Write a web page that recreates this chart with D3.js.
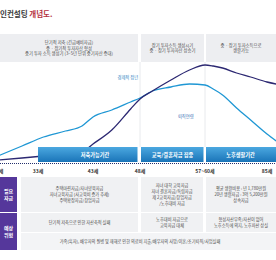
<!DOCTYPE html>
<html>
<head>
<meta charset="utf-8">
<script src="https://cdn.jsdelivr.net/npm/d3@7"></script>
<style>
  body { margin: 0; background: #fff; }
  svg { display: block; font-family: "Noto Sans CJK KR", "Noto Sans", sans-serif; }
</style>
</head>
<body>
<div id="chart"></div>
<script>
// ages on the axis (57~60 is drawn as one tick)
var ageTicks = [28, 33, 43, 48, 58.5, 85];
var ageLabels = ["28세", "33세", "43세", "48세", "57~60세", "85세"];

// stage boxes on top
var stageFrom = [28, 48, 58.5];
var stageTo = [48, 58.5, 92];
var stageLines = [
  ["단기적 저축 (긴급예비자금)", "중 · 장기적 투자자산 형성", "중기 투자 소득 생성기 (3~5년 단위 중기자산 증대)"],
  ["장기 투자소득 생성시기", "중 · 장기 투자자산 상승기"],
  ["중 · 장기 투자소득으로", "생활가능"]
];

// period bars
var periodFrom = [33, 48, 58.5];
var periodTo = [48, 58.5, 92];
var periodNames = ["저축가능기간", "교육/결혼자금 집중", "노후생활기간"];

// curves
var curveAges = [28, 31, 34, 38, 41, 43, 45, 47, 48, 50, 53, 56, 58.5, 62, 66, 72, 78, 85, 89];
var incomeVals = [4, 14, 23, 29, 34, 43, 50, 58, 62, 69, 73, 76, 75, 71, 65, 52, 40, 26, 19];
var assetVals = [0, 2, 4, 6, 8, 16, 30, 51, 61, 69, 80, 90, 95, 94, 92, 87, 83, 78, 76];

// table
var needLines = [
  ["주택마련자금/자녀양육자금", "자녀교육자금 (사교육비 증가 추세)", "주택확장자금/창업자금"],
  ["자녀 대학 교육자금", "자녀 결혼자금/독립자금", "제 2교육자금/창업자금", "/노후대비 자금"],
  ["평균 생활비용 : 년 1,780만원", "20년 생활자금 : 3억 5,200만원", "상속자금"]
];
var riskLines = [
  ["단기적 저축으로 인한 자산축적 실패"],
  ["노후대비 자금으로", "교육자금 대체"],
  ["형성자산부족/자산이 없어", "노후소득에 의지, 노후파산 상실"]
];
var riskCommon = "가족(흑자), 배우자의 질병 및 재해로 인한 의료비 지출/배우자의 사망/이혼/조기퇴직/사업실패";

var W = 276, H = 260;
var svg = d3.select("#chart").append("svg")
    .attr("width", W)
    .attr("height", H);

// piecewise age scale, the picture is not linear in age
var x = d3.scaleLinear()
    .domain([28, 33, 43, 48, 58.5, 85, 92])
    .range([-2, 38, 93, 140, 205, 267, 283]);
var y = d3.scaleLinear()
    .domain([0, 100])
    .range([160, 60]);

var defs = svg.append("defs");
var grad = defs.append("linearGradient")
    .attr("id", "barGrad")
    .attr("x1", 0).attr("y1", 0).attr("x2", 0).attr("y2", 1);
grad.append("stop").attr("offset", "0%").attr("stop-color", "#4ba8e0");
grad.append("stop").attr("offset", "100%").attr("stop-color", "#1a74b8");

// title
var title = svg.append("text")
    .attr("x", 0)
    .attr("y", 17)
    .attr("font-size", 7.5)
    .attr("font-weight", "bold");
title.append("tspan").attr("fill", "#3a3a3a").text("인컨설팅 ");
title.append("tspan").attr("fill", "#b5313f").text("개념도.");

// stage boxes
var stages = svg.selectAll(".stage")
    .data(stageLines)
  .enter().append("g")
    .attr("class", "stage");

stages.append("rect")
    .attr("x", function(d, i) { return x(stageFrom[i]) + (i ? 1 : 0); })
    .attr("y", 34)
    .attr("width", function(d, i) { return x(stageTo[i]) - x(stageFrom[i]) - 2; })
    .attr("height", 28)
    .attr("fill", "#edeef1");

stages.each(function(lines, i) {
  var cx = (x(stageFrom[i]) + Math.min(x(stageTo[i]), W + 1)) / 2;
  var y0 = 48 - (lines.length - 1) * 2.7;
  d3.select(this).selectAll("text")
      .data(lines)
    .enter().append("text")
      .attr("x", cx)
      .attr("y", function(d, j) { return y0 + j * 5.4 + 1.5; })
      .attr("text-anchor", "middle")
      .attr("font-size", 4.3)
      .attr("fill", "#4a4a4a")
      .text(function(d) { return d; });
});

// dividers at stage borders
svg.selectAll(".divider")
    .data([48, 58.5])
  .enter().append("line")
    .attr("x1", function(d) { return x(d); })
    .attr("x2", function(d) { return x(d); })
    .attr("y1", 62)
    .attr("y2", 147)
    .attr("stroke", "#e2e4e8")
    .attr("stroke-width", 0.8);

// curves
var line = d3.line()
    .x(function(d) { return x(d[0]); })
    .y(function(d) { return y(d[1]); })
    .curve(d3.curveMonotoneX);

svg.append("path")
    .datum(d3.zip(curveAges, incomeVals))
    .attr("d", line)
    .attr("fill", "none")
    .attr("stroke", "#1f97d4")
    .attr("stroke-width", 1.3);

svg.append("path")
    .datum(d3.zip(curveAges, assetVals))
    .attr("d", line)
    .attr("fill", "none")
    .attr("stroke", "#2c2872")
    .attr("stroke-width", 1.3);

svg.append("text")
    .attr("x", x(45.6))
    .attr("y", 79)
    .attr("font-size", 4.3)
    .attr("fill", "#2b7fbf")
    .text("경제적 정년");

svg.append("text")
    .attr("x", x(55.4))
    .attr("y", 118)
    .attr("text-anchor", "middle")
    .attr("font-size", 4.3)
    .attr("fill", "#3a6fb4")
    .text("퇴직연령");

// period bars
var bars = svg.selectAll(".period")
    .data(periodNames)
  .enter().append("g")
    .attr("class", "period");

bars.append("rect")
    .attr("x", function(d, i) { return x(periodFrom[i]) + (i ? 1 : 0); })
    .attr("y", 147)
    .attr("width", function(d, i) { return x(periodTo[i]) - x(periodFrom[i]) - 2.5; })
    .attr("height", 15)
    .attr("fill", "url(#barGrad)");

bars.append("text")
    .attr("x", function(d, i) {
      return i == 0 ? (x(periodFrom[i]) + x(periodTo[i])) / 2 + 6
                    : (x(periodFrom[i]) + Math.min(x(periodTo[i]), W)) / 2;
    })
    .attr("y", 156.5)
    .attr("text-anchor", "middle")
    .attr("font-size", 5.2)
    .attr("font-weight", "bold")
    .attr("fill", "#fff")
    .text(function(d) { return d; });

// dotted axis
svg.append("line")
    .attr("x1", 0).attr("x2", W)
    .attr("y1", 163.5).attr("y2", 163.5)
    .attr("stroke", "#23306e")
    .attr("stroke-width", 1)
    .attr("stroke-dasharray", "1,1");

svg.selectAll(".age")
    .data(ageTicks)
  .enter().append("text")
    .attr("class", "age")
    .attr("x", function(d) { return x(d); })
    .attr("y", 172.5)
    .attr("text-anchor", "middle")
    .attr("font-size", 5)
    .attr("font-weight", "bold")
    .attr("fill", "#333")
    .text(function(d, i) { return ageLabels[i]; });

// table
var cellX0 = [21, x(48) + 1, x(58.5) + 1];
var cellX1 = [x(48) - 2, x(58.5) - 2, W];

function headCell(y0, h, lines) {
  svg.append("rect")
      .attr("x", 0).attr("y", y0)
      .attr("width", 17).attr("height", h)
      .attr("fill", "#55379b");
  svg.selectAll(null)
      .data(lines)
    .enter().append("text")
      .attr("x", 8.5)
      .attr("y", function(d, j) { return y0 + h / 2 - 1.5 + j * 6.5; })
      .attr("text-anchor", "middle")
      .attr("font-size", 5)
      .attr("font-weight", "bold")
      .attr("fill", "#fff")
      .text(function(d) { return d; });
}

function rowCells(y0, h, data, gap) {
  data.forEach(function(lines, i) {
    svg.append("rect")
        .attr("x", cellX0[i]).attr("y", y0)
        .attr("width", cellX1[i] - cellX0[i]).attr("height", h)
        .attr("fill", "#f0f1f3");
    var cx = (cellX0[i] + cellX1[i]) / 2;
    var start = y0 + h / 2 - (lines.length - 1) * gap / 2 + 1.5;
    svg.selectAll(null)
        .data(lines)
      .enter().append("text")
        .attr("x", cx)
        .attr("y", function(d, j) { return start + j * gap; })
        .attr("text-anchor", "middle")
        .attr("font-size", 4.2)
        .attr("fill", "#4a4a4a")
        .text(function(d) { return d; });
  });
}

headCell(177, 35, ["필요", "자금"]);
rowCells(177, 35, needLines, 5.8);

headCell(213, 37, ["예상", "위험"]);
rowCells(213, 19, riskLines, 6);

svg.append("rect")
    .attr("x", 21).attr("y", 233)
    .attr("width", W - 21).attr("height", 17)
    .attr("fill", "#f3f4f6");
svg.append("text")
    .attr("x", 140)
    .attr("y", 243)
    .attr("text-anchor", "middle")
    .attr("font-size", 4.2)
    .attr("fill", "#4a4a4a")
    .text(riskCommon);
</script>
</body>
</html>
